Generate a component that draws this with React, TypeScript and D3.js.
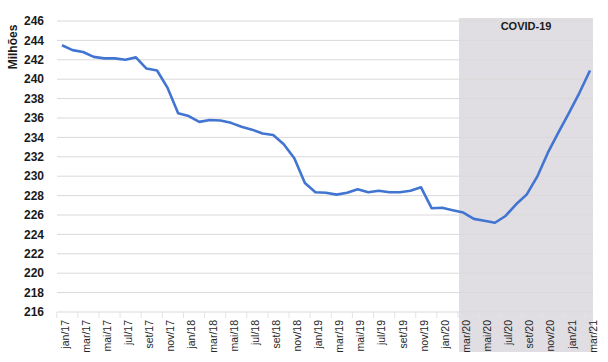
import * as d3 from 'd3';
import React, { useEffect, useRef } from 'react';

const months = [
  'jan/17', 'fev/17', 'mar/17', 'abr/17', 'mai/17', 'jun/17', 'jul/17', 'ago/17', 'set/17', 'out/17', 'nov/17', 'dez/17',
  'jan/18', 'fev/18', 'mar/18', 'abr/18', 'mai/18', 'jun/18', 'jul/18', 'ago/18', 'set/18', 'out/18', 'nov/18', 'dez/18',
  'jan/19', 'fev/19', 'mar/19', 'abr/19', 'mai/19', 'jun/19', 'jul/19', 'ago/19', 'set/19', 'out/19', 'nov/19', 'dez/19',
  'jan/20', 'fev/20', 'mar/20', 'abr/20', 'mai/20', 'jun/20', 'jul/20', 'ago/20', 'set/20', 'out/20', 'nov/20', 'dez/20',
  'jan/21', 'fev/21', 'mar/21',
];

const values = [
  243.5, 243.0, 242.8, 242.3, 242.15, 242.15, 242.0, 242.25, 241.1, 240.9, 239.1, 236.5,
  236.2, 235.6, 235.8, 235.75, 235.5, 235.1, 234.8, 234.4, 234.25, 233.3, 231.85, 229.3,
  228.35, 228.3, 228.1, 228.3, 228.65, 228.35, 228.5, 228.35, 228.35, 228.5, 228.85, 226.7,
  226.75, 226.5, 226.25, 225.6, 225.4, 225.2, 225.9, 227.1, 228.1, 229.95, 232.4, 234.5,
  236.5, 238.6, 240.9,
];

const yTicks = [216, 218, 220, 222, 224, 226, 228, 230, 232, 234, 236, 238, 240, 242, 244, 246];

const covidStart = 'mar/20';
const covidLabel = 'COVID-19';
const yTitle = 'Milhões';

const App = () => {
  const ref = useRef<SVGSVGElement>(null);

  useEffect(() => {
    drawChart();
  }, []);

  function drawChart() {
    const svg = d3.select(ref.current);
    svg.selectAll('*').remove();

    const left = 57;
    const right = 593;
    const top = 21;
    const bottom = 312;

    const x = d3.scalePoint<string>().domain(months).range([62, 590]);
    const step = x.step();
    const y = d3.scaleLinear().domain([216, 246]).range([bottom, top]);

    // covid shaded area
    const sx = (x(covidStart) as number) - step * 0.4;
    svg
      .append('rect')
      .attr('x', sx)
      .attr('y', 18)
      .attr('width', right - sx)
      .attr('height', 352 - 18)
      .attr('fill', '#e0dee3');

    // grid
    svg
      .append('g')
      .selectAll('line')
      .data(yTicks)
      .join('line')
      .attr('x1', left)
      .attr('x2', right)
      .attr('y1', (d) => y(d))
      .attr('y2', (d) => y(d))
      .attr('stroke', '#d9d9d9')
      .attr('stroke-width', 1);

    // y labels
    svg
      .append('g')
      .selectAll('text')
      .data(yTicks)
      .join('text')
      .attr('x', 44)
      .attr('y', (d) => y(d))
      .attr('dy', '0.35em')
      .attr('text-anchor', 'end')
      .attr('font-family', 'Liberation Sans, Arial, sans-serif')
      .attr('font-weight', 'bold')
      .attr('font-size', 12)
      .attr('fill', '#1a1a1a')
      .text((d) => d);

    svg
      .append('text')
      .attr('transform', 'translate(17,47) rotate(-90)')
      .attr('text-anchor', 'middle')
      .attr('font-family', 'Liberation Sans, Arial, sans-serif')
      .attr('font-weight', 'bold')
      .attr('font-size', 12)
      .attr('fill', '#1a1a1a')
      .text(yTitle);

    // x tick marks between every second category
    const shown = months.filter((_, i) => i % 2 === 0);
    svg
      .append('g')
      .selectAll('line')
      .data(shown)
      .join('line')
      .attr('x1', (d) => (x(d) as number) - step / 2)
      .attr('x2', (d) => (x(d) as number) - step / 2)
      .attr('y1', bottom)
      .attr('y2', bottom + 6)
      .attr('stroke', '#e3e3e3');

    svg
      .append('g')
      .selectAll('text')
      .data(shown)
      .join('text')
      .attr('transform', (d) => `translate(${(x(d) as number) + 3},320) rotate(-90)`)
      .attr('text-anchor', 'end')
      .attr('dy', '0.35em')
      .attr('font-family', 'Liberation Sans, Arial, sans-serif')
      .attr('font-size', 10.5)
      .attr('fill', '#262626')
      .text((d) => d);

    // covid label
    svg
      .append('text')
      .attr('x', (sx + right) / 2)
      .attr('y', 30)
      .attr('text-anchor', 'middle')
      .attr('font-family', 'Liberation Sans, Arial, sans-serif')
      .attr('font-weight', 'bold')
      .attr('font-size', 11)
      .attr('fill', '#1a1a1a')
      .text(covidLabel);

    // line
    const line = d3
      .line<number>()
      .x((_, i) => x(months[i]) as number)
      .y((d) => y(d));

    svg
      .append('path')
      .datum(values)
      .attr('fill', 'none')
      .attr('stroke', '#4275d1')
      .attr('stroke-width', 2.6)
      .attr('stroke-linejoin', 'round')
      .attr('d', line);
  }

  return (
    <svg
      ref={ref}
      width={608}
      height={362}
      style={{ position: 'absolute', left: 0, top: 0, background: '#fff' }}
    />
  );
};

export default App;
